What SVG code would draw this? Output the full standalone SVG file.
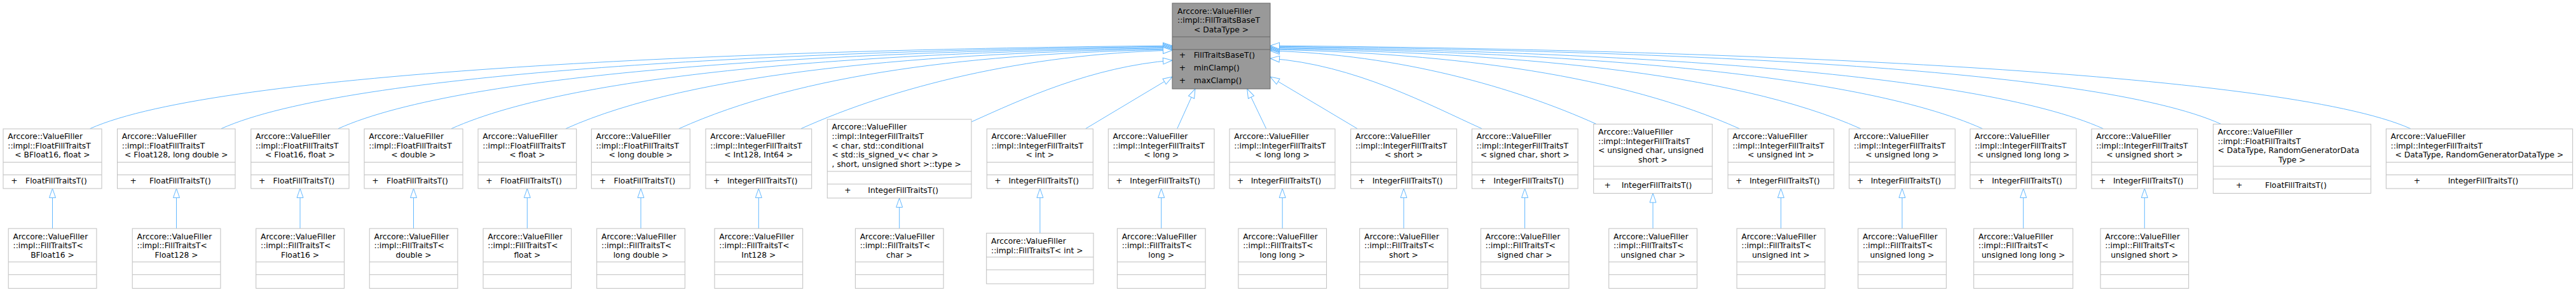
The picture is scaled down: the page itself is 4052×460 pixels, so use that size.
<svg xmlns="http://www.w3.org/2000/svg" width="4052" height="460" viewBox="0 0 4052 460">
<style>
.bx{fill:#fff;stroke:#bfbfbf;stroke-width:1}
.tp{fill:#999;stroke:#666;stroke-width:1}
.sp{stroke:#bfbfbf;stroke-width:1}
.spt{stroke:#666;stroke-width:1}
text{font-family:"DejaVu Sans","Liberation Sans",sans-serif;font-size:12.3px;fill:#000}
.m{text-anchor:middle}
.e{fill:none;stroke:#63b8ff;stroke-width:1;marker-end:url(#arr)}
</style>
<defs>
<marker id="arr" markerUnits="userSpaceOnUse" markerWidth="16" markerHeight="12" viewBox="0 0 16 12" refX="15" refY="6" orient="auto" overflow="visible">
<path d="M0.5,1 L15,6 L0.5,11 Z" fill="#fff" stroke="#63b8ff" stroke-width="1"/>
</marker>
</defs>
<rect width="4052" height="460" fill="#fff"/>
<g id="connectors">
<path class="e" d="M141.6,202.7 C341.6,112.7 1163,78 1844,72"/>
<path class="e" d="M348,202.7 C548,112.7 1245.6,79.2 1844,73.2"/>
<path class="e" d="M532,202.7 C732,112.7 1319.2,80.4 1844,74.4"/>
<path class="e" d="M710,202.7 C910,112.7 1390.4,81.6 1844,75.6"/>
<path class="e" d="M890,202.7 C1090,112.7 1462.4,82.8 1844,76.8"/>
<path class="e" d="M1068,202.7 C1262,115.4 1533.6,84 1844,78"/>
<path class="e" d="M1260,202.7 C1406,137 1610.4,85.2 1844,79.2"/>
<path class="e" d="M1528,192 C1607,156.4 1717.6,105 1844,95"/>
<path class="e" d="M1707.7,202.7 L1844,121"/>
<path class="e" d="M1851.7,202.7 L1880,140"/>
<path class="e" d="M1991.7,202.7 L1961.7,140"/>
<path class="e" d="M2135,202.7 L1998,121"/>
<path class="e" d="M2331,202.7 C2247.8,165.2 2131.2,102 1998,92"/>
<path class="e" d="M2510.7,195.3 C2382.5,137.6 2203.1,86 1998,80"/>
<path class="e" d="M2736,202.7 C2551.5,119.7 2293.2,84 1998,78"/>
<path class="e" d="M2926.7,202.7 C2726.7,112.7 2369.5,82.8 1998,76.8"/>
<path class="e" d="M3118.3,202.7 C2918.3,112.7 2446.1,81.6 1998,75.6"/>
<path class="e" d="M3308.3,202.7 C3108.3,112.7 2522.1,80.4 1998,74.4"/>
<path class="e" d="M3493.3,195.3 C3293.3,105.3 2596.1,79.2 1998,73.2"/>
<path class="e" d="M3791.7,202.7 C3591.7,112.7 2715.5,78 1998,72"/>
<path class="e" d="M82.5,360 L82.5,297"/>
<path class="e" d="M277.5,360 L277.5,297"/>
<path class="e" d="M472,360 L472,297"/>
<path class="e" d="M650.5,360 L650.5,297"/>
<path class="e" d="M829.3,360 L829.3,297"/>
<path class="e" d="M1008,360 L1008,297"/>
<path class="e" d="M1193.3,360 L1193.3,297"/>
<path class="e" d="M1414.7,360 L1414.7,312"/>
<path class="e" d="M1635.9,367.3 L1635.9,297"/>
<path class="e" d="M1826.7,360 L1826.7,297"/>
<path class="e" d="M2017.2,360 L2017.2,297"/>
<path class="e" d="M2208,360 L2208,297"/>
<path class="e" d="M2398.5,360 L2398.5,297"/>
<path class="e" d="M2600,360 L2600,304.5"/>
<path class="e" d="M2801.3,360 L2801.3,297"/>
<path class="e" d="M2992,360 L2992,297"/>
<path class="e" d="M3182.7,360 L3182.7,297"/>
<path class="e" d="M3373.3,360 L3373.3,297"/>
</g>
<g id="base">
<rect class="tp" x="1844" y="5" width="154" height="135"/>
<line class="spt" x1="1844" y1="58" x2="1998" y2="58"/>
<line class="spt" x1="1844" y1="78" x2="1998" y2="78"/>
<text x="1852" y="21.7">Arccore::ValueFiller</text>
<text x="1852" y="36.4">::impl::FillTraitsBaseT</text>
<text class="m" x="1921" y="51.1">&lt; DataType &gt;</text>
<text class="m" x="1860" y="91">+</text><text x="1877.7" y="91">FillTraitsBaseT()</text>
<text class="m" x="1860" y="111">+</text><text x="1877.7" y="111">minClamp()</text>
<text class="m" x="1860" y="131">+</text><text x="1877.7" y="131">maxClamp()</text>
</g>
<g id="n1">
<rect class="bx" x="5" y="203" width="155" height="94"/>
<line class="sp" x1="5" y1="255.5" x2="160" y2="255.5"/><line class="sp" x1="5" y1="275.5" x2="160" y2="275.5"/>
<text x="12.3" y="219">Arccore::ValueFiller</text><text x="12.3" y="233.7">::impl::FloatFillTraitsT</text>
<text class="m" x="82.5" y="248.4">&lt; BFloat16, float &gt;</text>
<text class="m" x="22.5" y="289">+</text><text class="m" x="88.5" y="289">FloatFillTraitsT()</text>
</g>
<g id="n2">
<rect class="bx" x="184.5" y="203" width="185.5" height="94"/>
<line class="sp" x1="184.5" y1="255.5" x2="370" y2="255.5"/><line class="sp" x1="184.5" y1="275.5" x2="370" y2="275.5"/>
<text x="191.8" y="219">Arccore::ValueFiller</text><text x="191.8" y="233.7">::impl::FloatFillTraitsT</text>
<text class="m" x="277.3" y="248.4">&lt; Float128, long double &gt;</text>
<text class="m" x="209.6" y="289">+</text><text class="m" x="283.3" y="289">FloatFillTraitsT()</text>
</g>
<g id="n3">
<rect class="bx" x="394.8" y="203" width="154.2" height="94"/>
<line class="sp" x1="394.8" y1="255.5" x2="549" y2="255.5"/><line class="sp" x1="394.8" y1="275.5" x2="549" y2="275.5"/>
<text x="402.1" y="219">Arccore::ValueFiller</text><text x="402.1" y="233.7">::impl::FloatFillTraitsT</text>
<text class="m" x="471.9" y="248.4">&lt; Float16, float &gt;</text>
<text class="m" x="412.1" y="289">+</text><text class="m" x="477.9" y="289">FloatFillTraitsT()</text>
</g>
<g id="n4">
<rect class="bx" x="573" y="203" width="155" height="94"/>
<line class="sp" x1="573" y1="255.5" x2="728" y2="255.5"/><line class="sp" x1="573" y1="275.5" x2="728" y2="275.5"/>
<text x="580.3" y="219">Arccore::ValueFiller</text><text x="580.3" y="233.7">::impl::FloatFillTraitsT</text>
<text class="m" x="650.5" y="248.4">&lt; double &gt;</text>
<text class="m" x="590.5" y="289">+</text><text class="m" x="656.5" y="289">FloatFillTraitsT()</text>
</g>
<g id="n5">
<rect class="bx" x="752" y="203" width="154.7" height="94"/>
<line class="sp" x1="752" y1="255.5" x2="906.7" y2="255.5"/><line class="sp" x1="752" y1="275.5" x2="906.7" y2="275.5"/>
<text x="759.3" y="219">Arccore::ValueFiller</text><text x="759.3" y="233.7">::impl::FloatFillTraitsT</text>
<text class="m" x="829.3" y="248.4">&lt; float &gt;</text>
<text class="m" x="769.4" y="289">+</text><text class="m" x="835.3" y="289">FloatFillTraitsT()</text>
</g>
<g id="n6">
<rect class="bx" x="930.3" y="203" width="155" height="94"/>
<line class="sp" x1="930.3" y1="255.5" x2="1085.3" y2="255.5"/><line class="sp" x1="930.3" y1="275.5" x2="1085.3" y2="275.5"/>
<text x="937.6" y="219">Arccore::ValueFiller</text><text x="937.6" y="233.7">::impl::FloatFillTraitsT</text>
<text class="m" x="1007.8" y="248.4">&lt; long double &gt;</text>
<text class="m" x="947.8" y="289">+</text><text class="m" x="1013.8" y="289">FloatFillTraitsT()</text>
</g>
<g id="n7">
<rect class="bx" x="1110" y="203" width="166.7" height="94"/>
<line class="sp" x1="1110" y1="255.5" x2="1276.7" y2="255.5"/><line class="sp" x1="1110" y1="275.5" x2="1276.7" y2="275.5"/>
<text x="1117.3" y="219">Arccore::ValueFiller</text><text x="1117.3" y="233.7">::impl::IntegerFillTraitsT</text>
<text class="m" x="1193.3" y="248.4">&lt; Int128, Int64 &gt;</text>
<text class="m" x="1127.1" y="289">+</text><text class="m" x="1199.3" y="289">IntegerFillTraitsT()</text>
</g>
<g id="n8">
<rect class="bx" x="1301.3" y="188" width="226.7" height="124"/>
<line class="sp" x1="1301.3" y1="270" x2="1528" y2="270"/><line class="sp" x1="1301.3" y1="290" x2="1528" y2="290"/>
<text x="1308.6" y="204.3">Arccore::ValueFiller</text><text x="1308.6" y="219">::impl::IntegerFillTraitsT</text>
<text x="1308.6" y="233.7">&lt; char, std::conditional</text>
<text x="1308.6" y="248.4">&lt; std::is_signed_v&lt; char &gt;</text>
<text x="1308.6" y="263.1">, short, unsigned short &gt;::type &gt;</text>
<text class="m" x="1333.4" y="304">+</text><text class="m" x="1420.7" y="304">IntegerFillTraitsT()</text>
</g>
<g id="n9">
<rect class="bx" x="1552.3" y="203" width="167" height="94"/>
<line class="sp" x1="1552.3" y1="255.5" x2="1719.3" y2="255.5"/><line class="sp" x1="1552.3" y1="275.5" x2="1719.3" y2="275.5"/>
<text x="1559.6" y="219">Arccore::ValueFiller</text><text x="1559.6" y="233.7">::impl::IntegerFillTraitsT</text>
<text class="m" x="1635.8" y="248.4">&lt; int &gt;</text>
<text class="m" x="1569.4" y="289">+</text><text class="m" x="1641.8" y="289">IntegerFillTraitsT()</text>
</g>
<g id="n10">
<rect class="bx" x="1743.3" y="203" width="166.7" height="94"/>
<line class="sp" x1="1743.3" y1="255.5" x2="1910" y2="255.5"/><line class="sp" x1="1743.3" y1="275.5" x2="1910" y2="275.5"/>
<text x="1750.6" y="219">Arccore::ValueFiller</text><text x="1750.6" y="233.7">::impl::IntegerFillTraitsT</text>
<text class="m" x="1826.7" y="248.4">&lt; long &gt;</text>
<text class="m" x="1760.4" y="289">+</text><text class="m" x="1832.7" y="289">IntegerFillTraitsT()</text>
</g>
<g id="n11">
<rect class="bx" x="1934" y="203" width="166" height="94"/>
<line class="sp" x1="1934" y1="255.5" x2="2100" y2="255.5"/><line class="sp" x1="1934" y1="275.5" x2="2100" y2="275.5"/>
<text x="1941.3" y="219">Arccore::ValueFiller</text><text x="1941.3" y="233.7">::impl::IntegerFillTraitsT</text>
<text class="m" x="2017" y="248.4">&lt; long long &gt;</text>
<text class="m" x="1950.9" y="289">+</text><text class="m" x="2023" y="289">IntegerFillTraitsT()</text>
</g>
<g id="n12">
<rect class="bx" x="2124.7" y="203" width="166.6" height="94"/>
<line class="sp" x1="2124.7" y1="255.5" x2="2291.3" y2="255.5"/><line class="sp" x1="2124.7" y1="275.5" x2="2291.3" y2="275.5"/>
<text x="2132" y="219">Arccore::ValueFiller</text><text x="2132" y="233.7">::impl::IntegerFillTraitsT</text>
<text class="m" x="2208" y="248.4">&lt; short &gt;</text>
<text class="m" x="2141.7" y="289">+</text><text class="m" x="2214" y="289">IntegerFillTraitsT()</text>
</g>
<g id="n13">
<rect class="bx" x="2315.3" y="203" width="166.7" height="94"/>
<line class="sp" x1="2315.3" y1="255.5" x2="2482" y2="255.5"/><line class="sp" x1="2315.3" y1="275.5" x2="2482" y2="275.5"/>
<text x="2322.6" y="219">Arccore::ValueFiller</text><text x="2322.6" y="233.7">::impl::IntegerFillTraitsT</text>
<text class="m" x="2398.7" y="248.4">&lt; signed char, short &gt;</text>
<text class="m" x="2332.4" y="289">+</text><text class="m" x="2404.7" y="289">IntegerFillTraitsT()</text>
</g>
<g id="n14">
<rect class="bx" x="2506.7" y="195.5" width="186.6" height="109"/>
<line class="sp" x1="2506.7" y1="262" x2="2693.3" y2="262"/><line class="sp" x1="2506.7" y1="282" x2="2693.3" y2="282"/>
<text x="2514" y="211.8">Arccore::ValueFiller</text><text x="2514" y="226.5">::impl::IntegerFillTraitsT</text>
<text x="2514" y="241.2">&lt; unsigned char, unsigned</text>
<text class="m" x="2600" y="255.9">short &gt;</text>
<text class="m" x="2528.7" y="296">+</text><text class="m" x="2606" y="296">IntegerFillTraitsT()</text>
</g>
<g id="n15">
<rect class="bx" x="2718" y="203" width="166.7" height="94"/>
<line class="sp" x1="2718" y1="255.5" x2="2884.7" y2="255.5"/><line class="sp" x1="2718" y1="275.5" x2="2884.7" y2="275.5"/>
<text x="2725.3" y="219">Arccore::ValueFiller</text><text x="2725.3" y="233.7">::impl::IntegerFillTraitsT</text>
<text class="m" x="2801.3" y="248.4">&lt; unsigned int &gt;</text>
<text class="m" x="2735.1" y="289">+</text><text class="m" x="2807.3" y="289">IntegerFillTraitsT()</text>
</g>
<g id="n16">
<rect class="bx" x="2908.7" y="203" width="166.6" height="94"/>
<line class="sp" x1="2908.7" y1="255.5" x2="3075.3" y2="255.5"/><line class="sp" x1="2908.7" y1="275.5" x2="3075.3" y2="275.5"/>
<text x="2916" y="219">Arccore::ValueFiller</text><text x="2916" y="233.7">::impl::IntegerFillTraitsT</text>
<text class="m" x="2992" y="248.4">&lt; unsigned long &gt;</text>
<text class="m" x="2925.8" y="289">+</text><text class="m" x="2998" y="289">IntegerFillTraitsT()</text>
</g>
<g id="n17">
<rect class="bx" x="3099" y="203" width="167" height="94"/>
<line class="sp" x1="3099" y1="255.5" x2="3266" y2="255.5"/><line class="sp" x1="3099" y1="275.5" x2="3266" y2="275.5"/>
<text x="3106.3" y="219">Arccore::ValueFiller</text><text x="3106.3" y="233.7">::impl::IntegerFillTraitsT</text>
<text class="m" x="3182.5" y="248.4">&lt; unsigned long long &gt;</text>
<text class="m" x="3116.1" y="289">+</text><text class="m" x="3188.5" y="289">IntegerFillTraitsT()</text>
</g>
<g id="n18">
<rect class="bx" x="3290" y="203" width="166.7" height="94"/>
<line class="sp" x1="3290" y1="255.5" x2="3456.7" y2="255.5"/><line class="sp" x1="3290" y1="275.5" x2="3456.7" y2="275.5"/>
<text x="3297.3" y="219">Arccore::ValueFiller</text><text x="3297.3" y="233.7">::impl::IntegerFillTraitsT</text>
<text class="m" x="3373.3" y="248.4">&lt; unsigned short &gt;</text>
<text class="m" x="3307.1" y="289">+</text><text class="m" x="3379.3" y="289">IntegerFillTraitsT()</text>
</g>
<g id="n19">
<rect class="bx" x="3481.3" y="195.5" width="248" height="109"/>
<line class="sp" x1="3481.3" y1="262" x2="3729.3" y2="262"/><line class="sp" x1="3481.3" y1="282" x2="3729.3" y2="282"/>
<text x="3488.6" y="211.8">Arccore::ValueFiller</text><text x="3488.6" y="226.5">::impl::FloatFillTraitsT</text>
<text x="3488.6" y="241.2">&lt; DataType, RandomGeneratorData</text>
<text class="m" x="3605.3" y="255.9">Type &gt;</text>
<text class="m" x="3522.1" y="296">+</text><text class="m" x="3611.3" y="296">FloatFillTraitsT()</text>
</g>
<g id="n20">
<rect class="bx" x="3753.3" y="203" width="293.4" height="94"/>
<line class="sp" x1="3753.3" y1="255.5" x2="4046.7" y2="255.5"/><line class="sp" x1="3753.3" y1="275.5" x2="4046.7" y2="275.5"/>
<text x="3760.6" y="219">Arccore::ValueFiller</text><text x="3760.6" y="233.7">::impl::IntegerFillTraitsT</text>
<text class="m" x="3900" y="248.4">&lt; DataType, RandomGeneratorDataType &gt;</text>
<text class="m" x="3802" y="289">+</text><text class="m" x="3906" y="289">IntegerFillTraitsT()</text>
</g>
<g id="c1">
<rect class="bx" x="13.2" y="360" width="138.7" height="94.3"/>
<line class="sp" x1="13.2" y1="412.7" x2="151.9" y2="412.7"/><line class="sp" x1="13.2" y1="432.7" x2="151.9" y2="432.7"/>
<text x="20.5" y="376.7">Arccore::ValueFiller</text><text x="20.5" y="391.4">::impl::FillTraitsT&lt;</text>
<text class="m" x="82.5" y="406.1">BFloat16 &gt;</text>
</g>
<g id="c2">
<rect class="bx" x="208.2" y="360" width="138.7" height="94.3"/>
<line class="sp" x1="208.2" y1="412.7" x2="346.9" y2="412.7"/><line class="sp" x1="208.2" y1="432.7" x2="346.9" y2="432.7"/>
<text x="215.5" y="376.7">Arccore::ValueFiller</text><text x="215.5" y="391.4">::impl::FillTraitsT&lt;</text>
<text class="m" x="277.5" y="406.1">Float128 &gt;</text>
</g>
<g id="c3">
<rect class="bx" x="402.7" y="360" width="138.7" height="94.3"/>
<line class="sp" x1="402.7" y1="412.7" x2="541.4" y2="412.7"/><line class="sp" x1="402.7" y1="432.7" x2="541.4" y2="432.7"/>
<text x="410" y="376.7">Arccore::ValueFiller</text><text x="410" y="391.4">::impl::FillTraitsT&lt;</text>
<text class="m" x="472" y="406.1">Float16 &gt;</text>
</g>
<g id="c4">
<rect class="bx" x="581.2" y="360" width="138.7" height="94.3"/>
<line class="sp" x1="581.2" y1="412.7" x2="719.9" y2="412.7"/><line class="sp" x1="581.2" y1="432.7" x2="719.9" y2="432.7"/>
<text x="588.5" y="376.7">Arccore::ValueFiller</text><text x="588.5" y="391.4">::impl::FillTraitsT&lt;</text>
<text class="m" x="650.5" y="406.1">double &gt;</text>
</g>
<g id="c5">
<rect class="bx" x="760" y="360" width="138.7" height="94.3"/>
<line class="sp" x1="760" y1="412.7" x2="898.7" y2="412.7"/><line class="sp" x1="760" y1="432.7" x2="898.7" y2="432.7"/>
<text x="767.3" y="376.7">Arccore::ValueFiller</text><text x="767.3" y="391.4">::impl::FillTraitsT&lt;</text>
<text class="m" x="829.3" y="406.1">float &gt;</text>
</g>
<g id="c6">
<rect class="bx" x="938.7" y="360" width="138.7" height="94.3"/>
<line class="sp" x1="938.7" y1="412.7" x2="1077.4" y2="412.7"/><line class="sp" x1="938.7" y1="432.7" x2="1077.4" y2="432.7"/>
<text x="946" y="376.7">Arccore::ValueFiller</text><text x="946" y="391.4">::impl::FillTraitsT&lt;</text>
<text class="m" x="1008" y="406.1">long double &gt;</text>
</g>
<g id="c7">
<rect class="bx" x="1124" y="360" width="138.7" height="94.3"/>
<line class="sp" x1="1124" y1="412.7" x2="1262.7" y2="412.7"/><line class="sp" x1="1124" y1="432.7" x2="1262.7" y2="432.7"/>
<text x="1131.3" y="376.7">Arccore::ValueFiller</text><text x="1131.3" y="391.4">::impl::FillTraitsT&lt;</text>
<text class="m" x="1193.3" y="406.1">Int128 &gt;</text>
</g>
<g id="c8">
<rect class="bx" x="1345.4" y="360" width="138.7" height="94.3"/>
<line class="sp" x1="1345.4" y1="412.7" x2="1484.1" y2="412.7"/><line class="sp" x1="1345.4" y1="432.7" x2="1484.1" y2="432.7"/>
<text x="1352.7" y="376.7">Arccore::ValueFiller</text><text x="1352.7" y="391.4">::impl::FillTraitsT&lt;</text>
<text class="m" x="1414.7" y="406.1">char &gt;</text>
</g>
<g id="c9">
<rect class="bx" x="1551.7" y="367.3" width="168.3" height="79.7"/>
<line class="sp" x1="1551.7" y1="405" x2="1720" y2="405"/><line class="sp" x1="1551.7" y1="425" x2="1720" y2="425"/>
<text x="1559" y="384">Arccore::ValueFiller</text><text x="1559" y="398.7">::impl::FillTraitsT&lt; int &gt;</text>
</g>
<g id="c10">
<rect class="bx" x="1757.4" y="360" width="138.7" height="94.3"/>
<line class="sp" x1="1757.4" y1="412.7" x2="1896.1" y2="412.7"/><line class="sp" x1="1757.4" y1="432.7" x2="1896.1" y2="432.7"/>
<text x="1764.7" y="376.7">Arccore::ValueFiller</text><text x="1764.7" y="391.4">::impl::FillTraitsT&lt;</text>
<text class="m" x="1826.7" y="406.1">long &gt;</text>
</g>
<g id="c11">
<rect class="bx" x="1947.9" y="360" width="138.7" height="94.3"/>
<line class="sp" x1="1947.9" y1="412.7" x2="2086.6" y2="412.7"/><line class="sp" x1="1947.9" y1="432.7" x2="2086.6" y2="432.7"/>
<text x="1955.2" y="376.7">Arccore::ValueFiller</text><text x="1955.2" y="391.4">::impl::FillTraitsT&lt;</text>
<text class="m" x="2017.2" y="406.1">long long &gt;</text>
</g>
<g id="c12">
<rect class="bx" x="2138.7" y="360" width="138.7" height="94.3"/>
<line class="sp" x1="2138.7" y1="412.7" x2="2277.4" y2="412.7"/><line class="sp" x1="2138.7" y1="432.7" x2="2277.4" y2="432.7"/>
<text x="2146" y="376.7">Arccore::ValueFiller</text><text x="2146" y="391.4">::impl::FillTraitsT&lt;</text>
<text class="m" x="2208" y="406.1">short &gt;</text>
</g>
<g id="c13">
<rect class="bx" x="2329.2" y="360" width="138.7" height="94.3"/>
<line class="sp" x1="2329.2" y1="412.7" x2="2467.9" y2="412.7"/><line class="sp" x1="2329.2" y1="432.7" x2="2467.9" y2="432.7"/>
<text x="2336.5" y="376.7">Arccore::ValueFiller</text><text x="2336.5" y="391.4">::impl::FillTraitsT&lt;</text>
<text class="m" x="2398.5" y="406.1">signed char &gt;</text>
</g>
<g id="c14">
<rect class="bx" x="2530.7" y="360" width="138.7" height="94.3"/>
<line class="sp" x1="2530.7" y1="412.7" x2="2669.4" y2="412.7"/><line class="sp" x1="2530.7" y1="432.7" x2="2669.4" y2="432.7"/>
<text x="2538" y="376.7">Arccore::ValueFiller</text><text x="2538" y="391.4">::impl::FillTraitsT&lt;</text>
<text class="m" x="2600" y="406.1">unsigned char &gt;</text>
</g>
<g id="c15">
<rect class="bx" x="2732" y="360" width="138.7" height="94.3"/>
<line class="sp" x1="2732" y1="412.7" x2="2870.7" y2="412.7"/><line class="sp" x1="2732" y1="432.7" x2="2870.7" y2="432.7"/>
<text x="2739.3" y="376.7">Arccore::ValueFiller</text><text x="2739.3" y="391.4">::impl::FillTraitsT&lt;</text>
<text class="m" x="2801.3" y="406.1">unsigned int &gt;</text>
</g>
<g id="c16">
<rect class="bx" x="2922.7" y="360" width="138.7" height="94.3"/>
<line class="sp" x1="2922.7" y1="412.7" x2="3061.4" y2="412.7"/><line class="sp" x1="2922.7" y1="432.7" x2="3061.4" y2="432.7"/>
<text x="2930" y="376.7">Arccore::ValueFiller</text><text x="2930" y="391.4">::impl::FillTraitsT&lt;</text>
<text class="m" x="2992" y="406.1">unsigned long &gt;</text>
</g>
<g id="c17">
<rect class="bx" x="3104.7" y="360" width="156" height="94.3"/>
<line class="sp" x1="3104.7" y1="412.7" x2="3260.7" y2="412.7"/><line class="sp" x1="3104.7" y1="432.7" x2="3260.7" y2="432.7"/>
<text x="3112" y="376.7">Arccore::ValueFiller</text><text x="3112" y="391.4">::impl::FillTraitsT&lt;</text>
<text class="m" x="3182.7" y="406.1">unsigned long long &gt;</text>
</g>
<g id="c18">
<rect class="bx" x="3304" y="360" width="138.7" height="94.3"/>
<line class="sp" x1="3304" y1="412.7" x2="3442.7" y2="412.7"/><line class="sp" x1="3304" y1="432.7" x2="3442.7" y2="432.7"/>
<text x="3311.3" y="376.7">Arccore::ValueFiller</text><text x="3311.3" y="391.4">::impl::FillTraitsT&lt;</text>
<text class="m" x="3373.3" y="406.1">unsigned short &gt;</text>
</g>
</svg>
